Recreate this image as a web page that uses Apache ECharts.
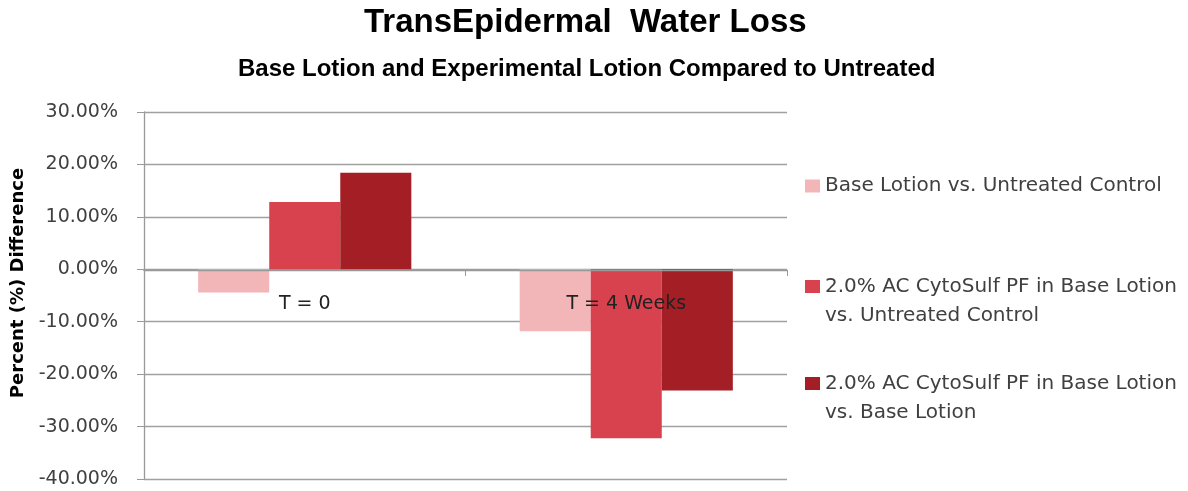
<!DOCTYPE html>
<html>
<head>
<meta charset="utf-8">
<script src="https://cdn.jsdelivr.net/npm/echarts@6/dist/echarts.min.js"></script>
<style>
  html, body { margin: 0; padding: 0; background: #fff; }
  #chart { width: 1188px; height: 491px; }
</style>
</head>
<body>
<div id="chart"></div>
<script>
// categories and values (percent difference)
var categories = ['T = 0', 'T = 4 Weeks'];
var seriesNames = [
  'Base Lotion vs. Untreated Control',
  '2.0% AC CytoSulf PF in Base Lotion vs. Untreated Control',
  '2.0% AC CytoSulf PF in Base Lotion vs. Base Lotion'
];
var baseVsUntreated = [-4.45, -11.8];
var acVsUntreated = [12.85, -32.25];
var acVsBase = [18.4, -23.1];
var colors = ['#F2B6B9', '#D8424E', '#A31F25'];

var chart = echarts.init(document.getElementById('chart'));

var tickFont = 'DejaVu Sans';

// one legend per entry; wrapped names get an empty first line so the
// swatch lines up with the first real line of text
function makeLegend(idx, top, wrapped) {
  return {
    data: [seriesNames[idx]],
    left: 805,
    top: top,
    padding: 0,
    itemWidth: 15,
    itemHeight: 13,
    icon: 'rect',
    formatter: function (name) {
      return wrapped ? '\n' + name.replace(' vs.', '\nvs.') : name;
    },
    textStyle: {
      fontFamily: tickFont,
      fontSize: 20,
      color: '#404040',
      lineHeight: 29
    }
  };
}

var option = {
  animation: false,
  color: colors,
  title: [{
    text: 'TransEpidermal  Water Loss',
    left: 364,
    top: 6,
    padding: 0,
    textStyle: {
      fontFamily: 'Liberation Sans',
      fontWeight: 'bold',
      fontSize: 33,
      color: '#000'
    }
  }, {
    text: 'Base Lotion and Experimental Lotion Compared to Untreated',
    left: 238,
    top: 57,
    padding: 0,
    textStyle: {
      fontFamily: 'Liberation Sans',
      fontWeight: 'bold',
      fontSize: 24,
      color: '#000'
    }
  }],
  legend: [
    makeLegend(0, 171.5, false),
    makeLegend(1, 243, true),
    makeLegend(2, 340, true)
  ],
  grid: {
    left: 144,
    right: 401,
    top: 112,
    bottom: 12,
    outerBoundsMode: 'none'
  },
  xAxis: {
    type: 'category',
    data: categories,
    z: 10,
    // axis sits on the 0% line: 7 of 10 steps below the top of a 367px plot
    offset: -209,
    axisLine: { onZero: false, lineStyle: { color: '#999', width: 1.3 } },
    axisTick: { show: true, length: 6, lineStyle: { color: '#999' } },
    axisLabel: {
      margin: 25,
      fontFamily: tickFont,
      fontSize: 19,
      color: '#222'
    },
    splitLine: { show: false }
  },
  yAxis: {
    type: 'value',
    min: -40,
    max: 30,
    interval: 10,
    name: 'Percent (%) Difference',
    nameLocation: 'middle',
    nameGap: 116,
    nameTextStyle: {
      fontFamily: tickFont,
      fontWeight: 'bold',
      fontSize: 18,
      color: '#000',
      padding: [0, 0, 0, 25]
    },
    axisLine: { show: true, lineStyle: { color: '#999', width: 1.3 } },
    axisTick: { show: true, length: 7, lineStyle: { color: '#999' } },
    axisLabel: {
      margin: 26,
      fontFamily: tickFont,
      fontSize: 19,
      color: '#404040',
      formatter: function (v) { return v.toFixed(2) + '%'; }
    },
    splitLine: { show: true, lineStyle: { color: '#a0a0a0', width: 1.3 } }
  },
  series: [
    { name: seriesNames[0], type: 'bar', data: baseVsUntreated, barGap: '0%', barCategoryGap: '33.7%' },
    { name: seriesNames[1], type: 'bar', data: acVsUntreated, barGap: '0%', barCategoryGap: '33.7%' },
    { name: seriesNames[2], type: 'bar', data: acVsBase, barGap: '0%', barCategoryGap: '33.7%' }
  ]
};

chart.setOption(option);
</script>
</body>
</html>
